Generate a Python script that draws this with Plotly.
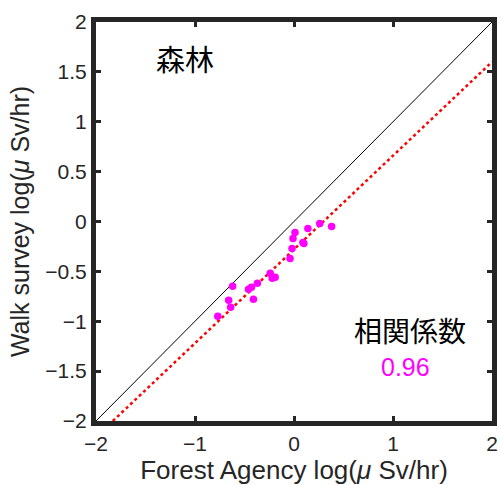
import plotly.graph_objects as go

# Data
forest_agency = [-0.62, -0.66, -0.64, -0.77, -0.46, -0.43, -0.41, -0.37, -0.24, -0.22,
                 -0.19, -0.04, -0.02, -0.01, 0.01, 0.09, 0.10, 0.14, 0.26, 0.38]
walk_survey = [-0.65, -0.79, -0.86, -0.95, -0.68, -0.66, -0.78, -0.62, -0.52, -0.57,
               -0.56, -0.37, -0.27, -0.17, -0.11, -0.21, -0.22, -0.07, -0.02, -0.05]
identity_x = [-2, 2]
identity_y = [-2, 2]
fit_x = [-1.83, 2]
fit_y = [-2, 1.6]
tick_vals_x = [-2, -1, 0, 1, 2]
tick_vals_y = [-2, -1.5, -1, -0.5, 0, 0.5, 1, 1.5, 2]
corr_value = "0.96"
region_label = "森林"
corr_label = "相関係数"

fig = go.Figure()
fig.add_trace(go.Scatter(x=identity_x, y=identity_y, mode="lines",
                         line=dict(color="black", width=1), showlegend=False))
fig.add_trace(go.Scatter(x=fit_x, y=fit_y, mode="lines",
                         line=dict(color="red", width=2.5, dash="dot"), showlegend=False))
fig.add_trace(go.Scatter(x=forest_agency, y=walk_survey, mode="markers",
                         marker=dict(color="#FF00FF", size=7.5, line=dict(width=0)),
                         showlegend=False))

cjk = "Noto Sans CJK JP"
latin = "Liberation Sans, Arial, sans-serif"

fig.add_annotation(x=-1.1, y=1.64, text=region_label, showarrow=False,
                   font=dict(family=cjk, size=29, color="black"))
fig.add_annotation(x=1.17, y=-1.09, text=corr_label, showarrow=False, borderpad=0,
                   font=dict(family=cjk, size=28, color="black"))
fig.add_annotation(x=1.13, y=-1.46, text=corr_value, showarrow=False, borderpad=0,
                   font=dict(family=latin, size=25, color="#FF00FF"))

axis_common = dict(showgrid=False, zeroline=False, showline=True, mirror="ticks",
                   linecolor="#262626", linewidth=5, ticks="inside", ticklen=5,
                   tickwidth=3, tickcolor="#262626",
                   tickfont=dict(family=latin, size=21, color="#262626"))

fig.update_xaxes(range=[-2, 2], tickvals=tick_vals_x,
                 title=dict(text="Forest Agency log(<i>μ</i> Sv/hr)",
                            font=dict(family=latin, size=26, color="#262626"), standoff=2),
                 **axis_common)
fig.update_yaxes(range=[-2, 2], tickvals=tick_vals_y,
                 title=dict(text="Walk survey log(<i>μ</i> Sv/hr)",
                            font=dict(family=latin, size=25, color="#262626"), standoff=10),
                 **axis_common)

fig.update_layout(width=501, height=485, margin=dict(l=96, r=4, t=22, b=64),
                  plot_bgcolor="white", paper_bgcolor="white")

fig.write_html("out.html")
